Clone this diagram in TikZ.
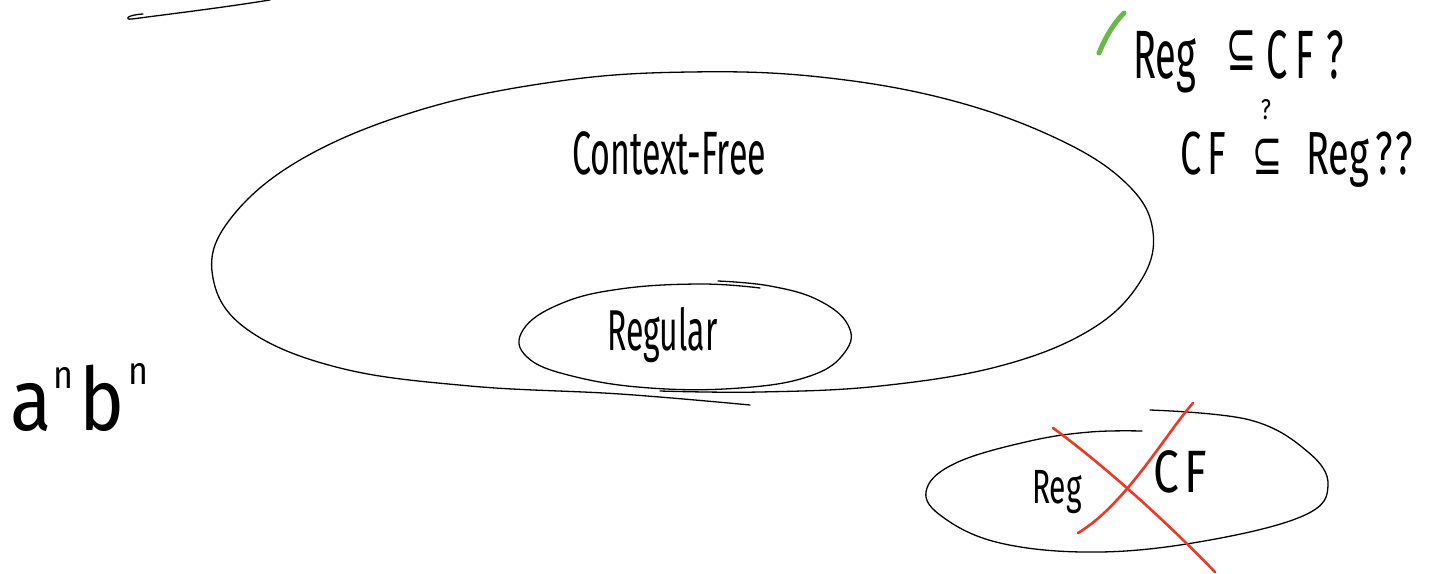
\documentclass[tikz,border=0pt]{standalone}
\usepackage{fontspec}
\usepackage{graphicx}
\setmainfont{Fira Sans}
\newfontfamily\symfont{DejaVu Sans}
\definecolor{crossred}{RGB}{232,58,40}
\definecolor{tickgreen}{RGB}{104,186,72}
\tikzset{
  ink/.style={line width=1.3pt, line cap=round, line join=round},
  crossstroke/.style={draw=crossred, line width=2.6pt, line cap=round},
  hand/.style={inner sep=0pt, anchor=base west},
}
\newcommand{\tall}[2]{\scalebox{1}[#1]{#2}}
\newcommand{\fs}[1]{\fontsize{#1}{#1}\selectfont}
\newcommand{\subs}[1]{{\symfont\fs{#1}⊆}}
\begin{document}
\begin{tikzpicture}[x=1pt,y=-1pt]
\useasboundingbox (0,0) rectangle (1429,573);
\fill[white] (0,0) rectangle (1429,573);

% stray pen stroke at the top
\draw[ink] (270,0) .. controls (220,8) and (170,14) .. (132,19)
  .. controls (124,20) and (126,15) .. (143,14);

% Context-Free region
\draw[ink] plot[smooth, tension=0.65] coordinates {
  (750,405) (620,394) (470,386) (340,368) (248,330) (213,278) (228,222)
  (300,160) (420,110) (560,81) (690,72) (820,77) (950,100) (1060,140)
  (1128,185) (1153,232) (1140,282) (1090,330) (1000,366) (880,386)
  (760,392) (660,391)};

% Regular region
\draw[ink] plot[smooth, tension=0.7] coordinates {
  (760,288) (700,284) (620,289) (560,304) (523,330) (527,357) (572,376)
  (650,388) (740,388) (810,376) (845,352) (848,325) (818,300) (770,286)
  (718,281)};

\node[hand] (ctxlabel) at (572,174) {\tall{1.8}{\fs{34}Context-Free}};
\node[hand] (reglabel) at (607,350) {\tall{1.8}{\fs{32}Regular}};

% questions in the upper right
\draw[draw=tickgreen, line width=5pt, line cap=round]
  (1099,53) .. controls (1106,36) and (1114,23) .. (1124,13);
\node[hand] (q1) at (1133,78)
  {\tall{1.8}{\fs{38}Reg\hspace{30pt}\raisebox{4pt}{\subs{36}}\hspace{10pt}C\hspace{8pt}F\hspace{12pt}?}};
\node[hand] (q2) at (1180,174)
  {\raisebox{0pt}[44pt][10pt]{\tall{1.6}{\fs{38}C\hspace{6pt}F\hspace{26pt}\subs{36}\hspace{24pt}Reg\hspace{6pt}?\hspace{3pt}?}}};
\node[inner sep=0pt] (q2mark) at (1266,110) {\tall{1.3}{\fs{22}?}};

% a^n b^n
\node[hand] (anbn) at (10,430)
  {\tall{1.15}{\fs{76}a\hspace{2pt}\raisebox{36pt}{\fs{34}n}\hspace{6pt}b\hspace{4pt}\raisebox{40pt}{\fs{34}n}}};

% Reg / CF region, crossed out
\draw[ink] plot[smooth, tension=0.65] coordinates {
  (1150,410) (1250,420) (1308,452) (1328,485) (1305,515) (1210,540)
  (1100,552) (1000,543) (940,515) (927,488) (958,462) (1030,441)
  (1090,432) (1142,431)};
\node[hand] (regsmall) at (1032,503) {\tall{1.6}{\fs{30}Reg}};
\node[hand] (cfsmall) at (1153,492) {\tall{1.3}{\fs{46}C\hspace{6pt}F}};
\draw[crossstroke] (1053,428) .. controls (1090,455) and (1150,505) .. (1215,572);
\draw[crossstroke] (1193,403) .. controls (1165,435) and (1125,505) .. (1078,533);
\end{tikzpicture}
\end{document}
